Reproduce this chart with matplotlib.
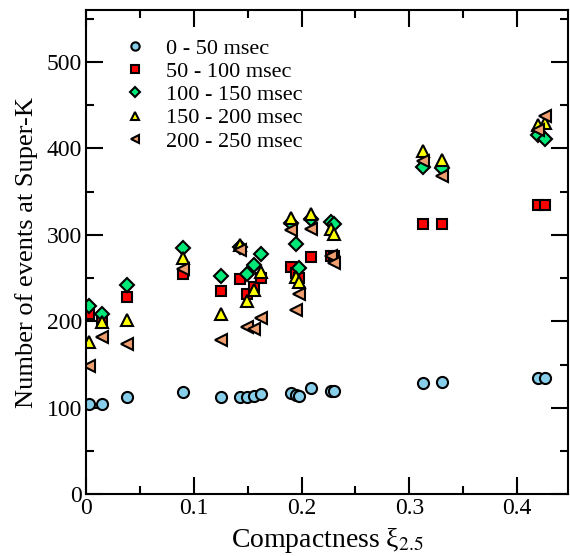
import matplotlib
matplotlib.use('Agg')
import matplotlib.pyplot as plt

plt.rcParams['font.family'] = ['Liberation Serif', 'DejaVu Serif']
plt.rcParams['mathtext.fontset'] = 'stix'

# compactness of each progenitor model
xi = [0.003, 0.015, 0.038, 0.090, 0.125, 0.143, 0.149, 0.156, 0.162, 0.190,
      0.195, 0.198, 0.209, 0.227, 0.230, 0.313, 0.330, 0.419, 0.426]

# number of events at Super-K in each time window
ev_0_50 = [104, 104, 112, 118, 113, 112, 112, 114, 116, 117,
           115, 114, 123, 120, 120, 129, 130, 134, 134]
ev_50_100 = [208, 200, 228, 255, 235, 249, 232, 240, 250, 263,
             256, 250, 274, 276, 276, 313, 312, 335, 334]
ev_100_150 = [218, 209, 242, 285, 252, 286, 255, 265, 278, 314,
              289, 262, 318, 315, 313, 379, 377, 415, 411]
ev_150_200 = [176, 199, 201, 273, 209, 288, 223, 236, 257, 319,
              251, 245, 324, 307, 301, 397, 387, 427, 429]
ev_200_250 = [148, 182, 174, 261, 178, 282, 194, 191, 204, 306,
              213, 232, 307, 276, 267, 385, 368, 421, 437]

labels = ['0 - 50 msec', '50 - 100 msec', '100 - 150 msec',
          '150 - 200 msec', '200 - 250 msec']

fig = plt.figure(figsize=(5.7, 5.56), dpi=100)
ax = fig.add_axes([0.151, 0.111, 0.845, 0.871])

ax.plot(xi, ev_0_50, 'o', ms=8, mfc='#87ceeb', mec='black', mew=1.5, label=labels[0])
ax.plot(xi, ev_50_100, 's', ms=7.5, mfc='#ff0000', mec='black', mew=1.5, label=labels[1])
ax.plot(xi, ev_100_150, 'D', ms=7, mfc='#00e878', mec='black', mew=1.5, label=labels[2])
ax.plot(xi, ev_150_200, '^', ms=8.5, mfc='#ffff00', mec='black', mew=1.5, label=labels[3])
ax.plot(xi, ev_200_250, '<', ms=8.5, mfc='#f0a070', mec='black', mew=1.5, label=labels[4])

ax.set_xlim(0, 0.447)
ax.set_ylim(0, 560)
ax.set_xticks([0, 0.1, 0.2, 0.3, 0.4])
ax.set_xticklabels(['0', '0.1', '0.2', '0.3', '0.4'])
ax.set_xticks([0.05, 0.15, 0.25, 0.35], minor=True)
ax.set_yticks([0, 100, 200, 300, 400, 500])
ax.set_yticks([50, 150, 250, 350, 450, 550], minor=True)
ax.tick_params(which='both', direction='in', top=True, right=True, width=1.5,
               labelsize=17, pad=3)
ax.tick_params(which='major', length=12)
ax.tick_params(which='minor', length=6)
for s in ax.spines.values():
    s.set_linewidth(1.5)

ax.set_xlabel('Compactness ξ$_{2.5}$', fontsize=20, labelpad=5)
ax.set_ylabel('Number of events at Super-K', fontsize=19, labelpad=6)

ax.legend(loc='upper left', bbox_to_anchor=(0.06, 0.96), frameon=False,
          fontsize=16, markerscale=0.75, handlelength=1.0, handletextpad=0.9,
          labelspacing=0.12, borderaxespad=0)

plt.savefig('out.png', dpi=100)
